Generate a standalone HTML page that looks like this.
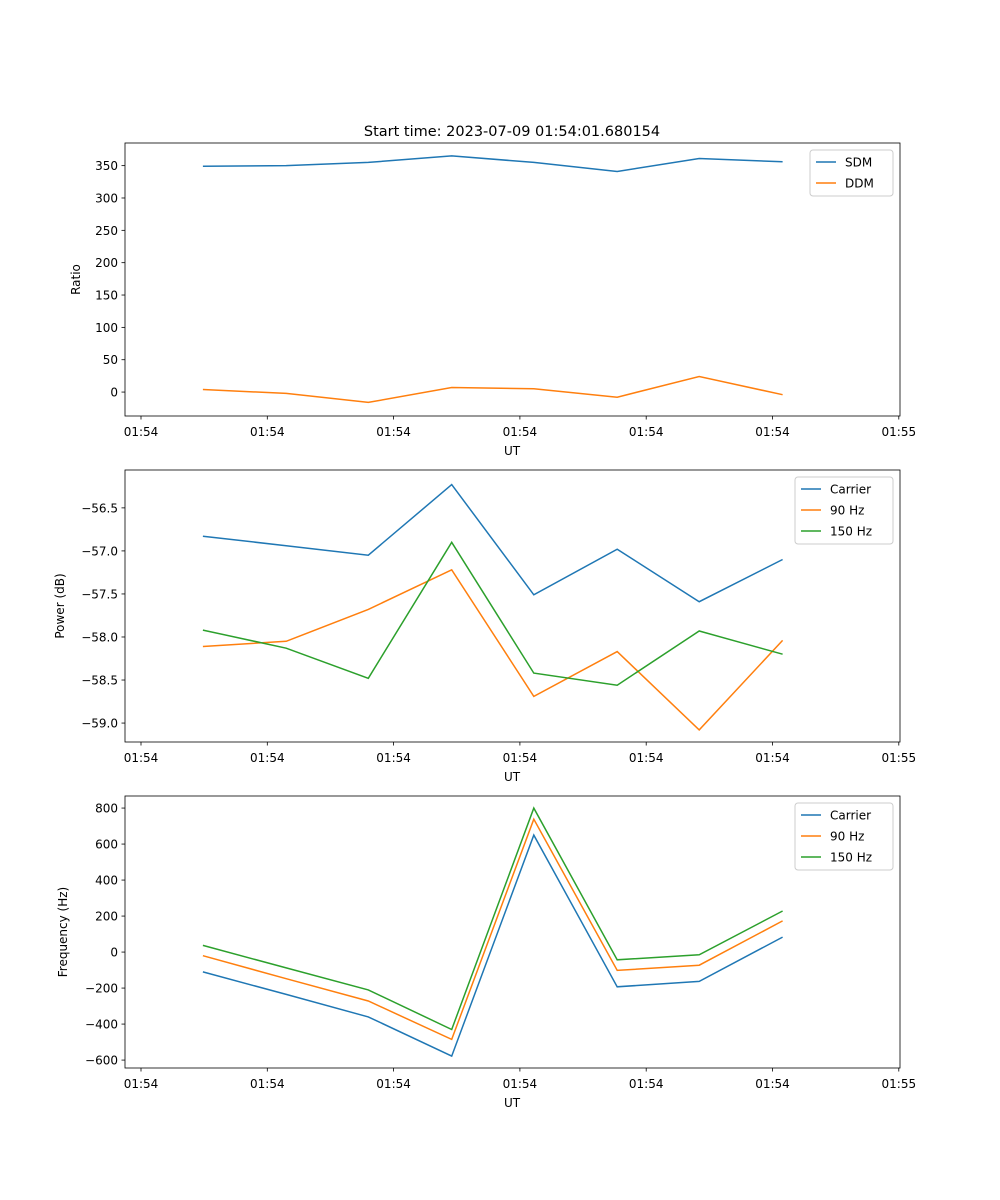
<!DOCTYPE html>
<html><head><meta charset="utf-8"><style>
body{margin:0;background:#fff;}
svg{display:block;font-family:"DejaVu Sans","Liberation Sans",sans-serif;}
</style></head><body>
<svg id="fig" width="1000" height="1200" xmlns="http://www.w3.org/2000/svg">
<text x="512" y="136" font-size="14.5" text-anchor="middle">Start time: 2023-07-09 01:54:01.680154</text>
</svg>
<script>
const times = [0.49, 1.15, 1.80, 2.46, 3.11, 3.77, 4.42, 5.08];
const xTickVals = [0,1,2,3,4,5,6];
const xTickLabels = ["01:54","01:54","01:54","01:54","01:54","01:54","01:55"];
const sdm = [349,350,355,365,355,341,361,356];
const ddm = [4,-2,-16,7,5,-8,24,-4];
const ratioTicks = [0,50,100,150,200,250,300,350];
const powCarrier = [-56.83,-56.94,-57.05,-56.23,-57.51,-56.98,-57.59,-57.10];
const pow90 = [-58.11,-58.05,-57.68,-57.22,-58.69,-58.17,-59.08,-58.04];
const pow150 = [-57.92,-58.13,-58.48,-56.90,-58.42,-58.56,-57.93,-58.20];
const powTicks = [-59.0,-58.5,-58.0,-57.5,-57.0,-56.5];
const frqCarrier = [-110,-235,-360,-578,650,-193,-163,83];
const frq90 = [-20,-148,-272,-485,738,-102,-73,173];
const frq150 = [37,-88,-210,-430,800,-43,-15,228];
const frqTicks = [-600,-400,-200,0,200,400,600,800];

const NS="http://www.w3.org/2000/svg";
const svg=document.getElementById('fig');
function mk(tag,attrs,parent){const e=document.createElementNS(NS,tag);for(const k in attrs)e.setAttribute(k,attrs[k]);(parent||svg).appendChild(e);return e;}
const L=125,R=900;
const xs=v=>141+(v)*126.3;

function panel(id,top,bottom,ymin,ymax,ticks,fmt,ylabel,series,names,colors,legW){
  const g=mk('g',{});
  
  
  const ys=v=>bottom-(v-ymin)/(ymax-ymin)*(bottom-top);
  series.forEach((s,i)=>{
    const p=mk('polyline',{points:s.map((v,j)=>xs(times[j]).toFixed(1)+','+ys(v).toFixed(1)).join(' '),fill:'none',stroke:colors[i],'stroke-width':1.5},g);
    
    
  });
  const fr=mk('rect',{x:L,y:top,width:R-L,height:bottom-top,fill:'none',stroke:'#000','stroke-width':0.8},g);
  
  
  xTickVals.forEach((v,i)=>{
    const x=xs(v);
    mk('line',{x1:x,x2:x,y1:bottom,y2:bottom+3.5,stroke:'#000','stroke-width':0.8},g);
    const t=mk('text',{x:x,y:bottom+20,'font-size':12,'text-anchor':'middle'},g);t.textContent=xTickLabels[i];
    
    
  });
  ticks.forEach(v=>{
    const y=ys(v);
    mk('line',{x1:L,x2:L-3.5,y1:y,y2:y,stroke:'#000','stroke-width':0.8},g);
    const t=mk('text',{x:L-7,y:y+4.5,'font-size':12,'text-anchor':'end'},g);t.textContent=fmt(v);
    
    
  });
  const xl=mk('text',{x:512,y:bottom+39,'font-size':12,'text-anchor':'middle'},g);xl.textContent='UT';
  
  
  const ylx=ylabel==='Ratio'?80:ylabel==='Power (dB)'?64:67;
  const yl=mk('text',{x:ylx,y:(top+bottom)/2,'font-size':12,'text-anchor':'middle',transform:`rotate(-90 ${ylx} ${(top+bottom)/2})`},g);yl.textContent=ylabel;
  
  
  const lx=893-legW, ly=top+7, lh=names.length*21+4;
  const lg=mk('g',{},g);
  
  
  mk('rect',{x:lx,y:ly,width:legW,height:lh,rx:3,fill:'#fff',stroke:'#ccc','stroke-width':1,'fill-opacity':0.8},lg);
  names.forEach((n,i)=>{
    const yy=ly+12+i*21;
    mk('line',{x1:lx+6,x2:lx+26,y1:yy,y2:yy,stroke:colors[i],'stroke-width':1.5},lg);
    const t=mk('text',{x:lx+35,y:yy+4.5,'font-size':12},lg);t.textContent=n;
    
    
  });
}
const C=['#1f77b4','#ff7f0e','#2ca02c'];
panel('ratio',143,416,-37,385,ratioTicks,v=>v<0?'\u2212'+(-v):String(v),'Ratio',[sdm,ddm],['SDM','DDM'],C,83);
panel('power',470,742,-59.22,-56.06,powTicks,v=>'\u2212'+(-v).toFixed(1),'Power (dB)',[powCarrier,pow90,pow150],['Carrier','90 Hz','150 Hz'],C,98);
panel('frequency',796,1068,-644,867,frqTicks,v=>v<0?'\u2212'+(-v):String(v),'Frequency (Hz)',[frqCarrier,frq90,frq150],['Carrier','90 Hz','150 Hz'],C,98);
</script>
</body></html>
